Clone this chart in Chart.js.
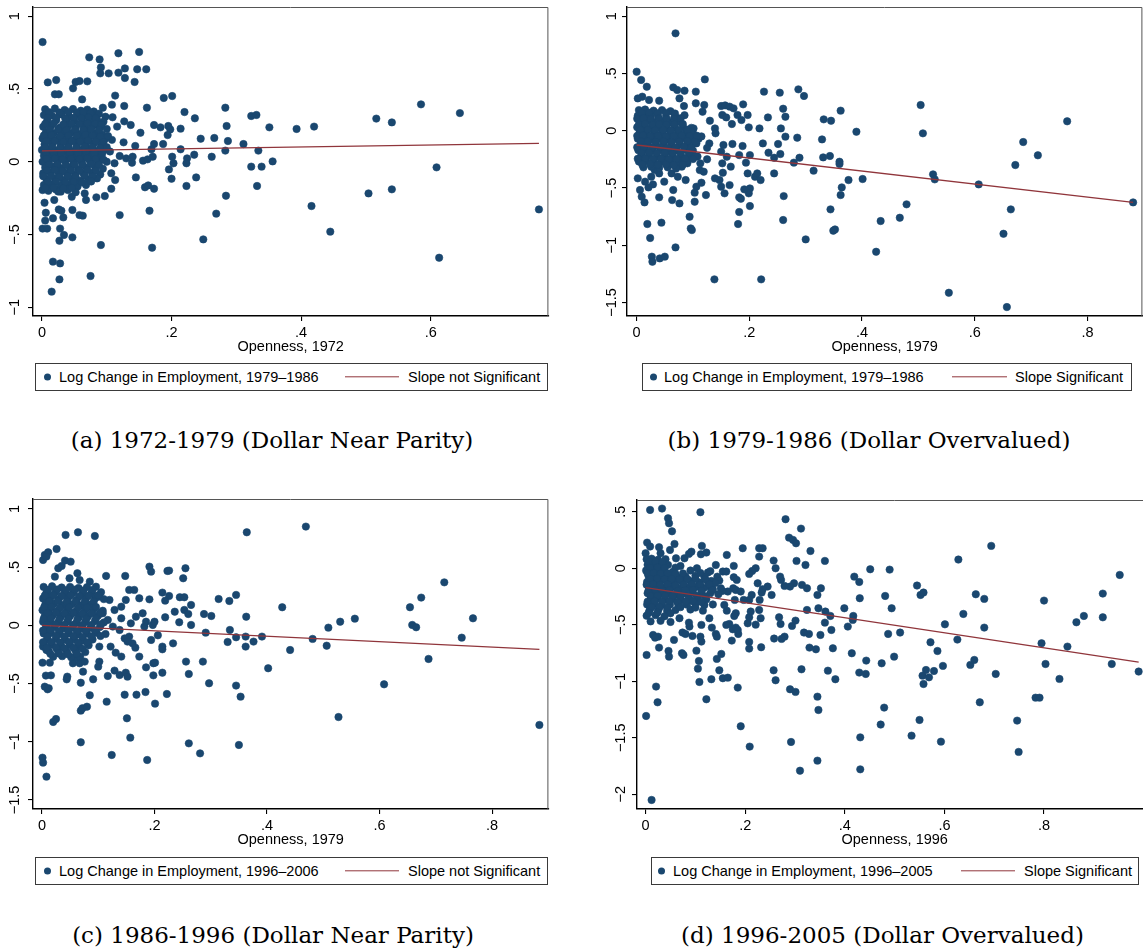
<!DOCTYPE html>
<html>
<head>
<meta charset="utf-8">
<script src="https://cdn.jsdelivr.net/npm/chart.js@4.4.1/dist/chart.umd.min.js"></script>
<style>
  html, body { margin: 0; padding: 0; background: #fff; width: 1143px; height: 951px; overflow: hidden; position: relative; font-family: 'Liberation Sans', Arial, sans-serif; }
  canvas { position: absolute; }
  .legend { position: absolute; border: 1px solid #3a3a3a; box-sizing: border-box; font-size: 14.5px; color: #000; background: #fff; }
  .legend span { position: absolute; top: 50%; transform: translateY(-50%); white-space: nowrap; }
  .legend .dot { width: 7px; height: 7px; border-radius: 50%; background: #1a476f; margin-left: -3.5px; }
  .legend .seg { height: 1.4px; background: #90353b; }
  .caption { position: absolute; font-family: 'DejaVu Serif', serif; font-size: 23px; line-height: 26px; text-align: center; white-space: nowrap; color: #000; }
</style>
</head>
<body>
<canvas id="cA" width="553" height="360" style="left:0px;top:0px"></canvas>
<canvas id="cB" width="553" height="360" style="left:594px;top:0px"></canvas>
<canvas id="cC" width="553" height="361" style="left:0px;top:492px"></canvas>
<canvas id="cD" width="553" height="360" style="left:604px;top:493px"></canvas>

<div class="legend" style="left:35px;top:363px;width:513px;height:28px">
  <span class="dot" style="left:11px"></span><span style="left:23px">Log Change in Employment, 1979–1986</span>
  <span class="seg" style="left:309px;width:54px"></span><span style="left:372px">Slope not Significant</span>
</div>
<div class="legend" style="left:642px;top:363px;width:490px;height:28px">
  <span class="dot" style="left:10px"></span><span style="left:21px">Log Change in Employment, 1979–1986</span>
  <span class="seg" style="left:309px;width:55px"></span><span style="left:372px">Slope Significant</span>
</div>
<div class="legend" style="left:35px;top:857px;width:513px;height:28px">
  <span class="dot" style="left:11px"></span><span style="left:23px">Log Change in Employment, 1996–2006</span>
  <span class="seg" style="left:309px;width:54px"></span><span style="left:372px">Slope not Significant</span>
</div>
<div class="legend" style="left:651px;top:857px;width:488px;height:28px">
  <span class="dot" style="left:9px"></span><span style="left:21px">Log Change in Employment, 1996–2005</span>
  <span class="seg" style="left:309px;width:54px"></span><span style="left:372px">Slope Significant</span>
</div>

<div class="caption" style="left:0px;top:427px;width:544px">(a) 1972-1979 (Dollar Near Parity)</div>
<div class="caption" style="left:597px;top:427px;width:544px">(b) 1979-1986 (Dollar Overvalued)</div>
<div class="caption" style="left:0px;top:922px;width:546px">(c) 1986-1996 (Dollar Near Parity)</div>
<div class="caption" style="left:610px;top:922px;width:545px">(d) 1996-2005 (Dollar Overvalued)</div>

<script>
// ---- data: openness (x) vs log change in employment (y) ----
const xTicksA = [0, 0.2, 0.4, 0.6];
const xLabelsA = ['0', '.2', '.4', '.6'];
const xTicksBCD = [0, 0.2, 0.4, 0.6, 0.8];
const xLabelsBCD = ['0', '.2', '.4', '.6', '.8'];
const yTicksA = [1, 0.5, 0, -0.5, -1];
const yLabelsA = ['1', '.5', '0', '\u2212.5', '\u22121'];
const yTicksBC = [1, 0.5, 0, -0.5, -1, -1.5];
const yLabelsBC = ['1', '.5', '0', '\u2212.5', '\u22121', '\u22121.5'];
const yTicksD = [0.5, 0, -0.5, -1, -1.5, -2];
const yLabelsD = ['.5', '0', '\u2212.5', '\u22121', '\u22121.5', '\u22122'];

// panel (a) 1972-1979
const pointsA = [[0.001,0.822],[0.073,0.717],[0.089,0.703],[0.118,0.745],[0.150,0.754],[0.091,0.648],[0.090,0.607],[0.103,0.607],[0.118,0.612],[0.128,0.641],[0.128,0.575],[0.147,0.635],[0.161,0.635],[0.143,0.548],[0.009,0.545],[0.022,0.561],[0.048,0.504],[0.052,0.548],[0.058,0.554],[0.070,0.552],[0.020,0.463],[0.026,0.463],[0.062,0.428],[0.113,0.454],[0.188,0.438],[0.201,0.451],[0.094,0.371],[0.108,0.392],[0.127,0.383],[0.162,0.371],[0.220,0.341],[0.236,0.298],[0.283,0.371],[0.127,0.277],[0.098,0.309],[0.109,0.305],[0.137,0.252],[0.116,0.241],[0.173,0.252],[0.183,0.236],[0.195,0.245],[0.198,0.222],[0.214,0.227],[0.152,0.199],[0.194,0.183],[0.245,0.158],[0.266,0.163],[0.285,0.245],[0.287,0.142],[0.311,0.121],[0.187,0.121],[0.173,0.121],[0.144,0.108],[0.126,0.133],[0.214,0.085],[0.224,0.023],[0.262,0.034],[0.235,0.048],[0.283,0.076],[0.201,0.034],[0.203,-0.011],[0.196,-0.053],[0.200,-0.117],[0.223,-0.011],[0.323,-0.034],[0.334,0.076],[0.339,-0.034],[0.351,0.236],[0.356,0.002],[0.323,0.314],[0.331,0.321],[0.332,-0.167],[0.238,-0.108],[0.223,-0.167],[0.284,-0.234],[0.269,-0.357],[0.249,-0.534],[0.170,-0.591],[0.166,-0.337],[0.159,-0.176],[0.164,-0.163],[0.173,-0.186],[0.145,-0.108],[0.156,0.007],[0.163,0.016],[0.171,0.034],[0.169,0.085],[0.139,-0.007],[0.140,0.034],[0.130,0.023],[0.120,0.039],[0.112,-0.011],[0.107,-0.080],[0.113,-0.126],[0.107,-0.186],[0.120,-0.367],[0.097,-0.236],[0.084,-0.245],[0.091,-0.573],[0.075,-0.786],[0.068,-0.263],[0.066,-0.218],[0.058,-0.367],[0.063,-0.371],[0.047,-0.332],[0.046,-0.241],[0.047,-0.520],[0.034,-0.504],[0.028,-0.460],[0.027,-0.543],[0.030,-0.337],[0.026,-0.328],[0.033,-0.383],[0.017,-0.389],[0.019,-0.263],[0.028,-0.699],[0.017,-0.687],[0.027,-0.809],[0.015,-0.893],[0.004,-0.282],[0.006,-0.351],[0.005,-0.405],[0.001,-0.460],[0.008,-0.460],[0.001,-0.195],[0.007,-0.172],[0.021,-0.190],[0.029,-0.206],
  [0.393,0.225],[0.420,0.241],[0.516,0.296],[0.540,0.270],[0.585,0.394],[0.645,0.334],[0.609,-0.039],[0.416,-0.305],[0.445,-0.481],[0.504,-0.218],[0.540,-0.190],[0.613,-0.660],[0.767,-0.328]];
const coreA = [[0.005,0.36],[0.02,0.365],[0.035,0.355],[0.048,0.362],[0.06,0.35],[0.07,0.358],[0.08,0.345],
  [0.003,0.32],[0.015,0.318],[0.03,0.325],[0.042,0.31],[0.055,0.322],[0.067,0.315],[0.078,0.32],[0.088,0.33],
  [0.008,0.28],[0.022,0.285],[0.038,0.275],[0.05,0.282],[0.062,0.27],[0.075,0.28],[0.085,0.288],[0.095,0.275],
  [0.002,0.24],[0.014,0.245],[0.028,0.235],[0.04,0.242],[0.052,0.23],[0.066,0.24],[0.079,0.248],[0.09,0.236],[0.1,0.225],
  [0.006,0.2],[0.018,0.195],[0.032,0.205],[0.045,0.198],[0.058,0.19],[0.07,0.202],[0.083,0.195],[0.093,0.185],
  [0.001,0.16],[0.012,0.165],[0.025,0.155],[0.037,0.162],[0.05,0.15],[0.062,0.158],[0.073,0.165],[0.086,0.155],[0.098,0.16],[0.108,0.15],
  [0.004,0.12],[0.016,0.125],[0.029,0.115],[0.041,0.122],[0.054,0.11],[0.068,0.118],[0.08,0.125],[0.092,0.112],
  [0.0,0.08],[0.01,0.085],[0.022,0.075],[0.034,0.082],[0.047,0.07],[0.06,0.078],[0.072,0.085],[0.084,0.072],[0.096,0.08],[0.105,0.07],
  [0.003,0.04],[0.015,0.045],[0.027,0.035],[0.04,0.042],[0.052,0.03],[0.065,0.038],[0.077,0.045],[0.09,0.032],
  [0.001,0.0],[0.011,0.005],[0.024,-0.005],[0.036,0.002],[0.049,-0.01],[0.061,-0.002],[0.074,0.005],[0.087,-0.008],[0.1,0.0],
  [0.005,-0.04],[0.018,-0.035],[0.03,-0.045],[0.043,-0.038],[0.056,-0.05],[0.069,-0.042],[0.082,-0.035],[0.094,-0.048],
  [0.002,-0.08],[0.013,-0.075],[0.026,-0.085],[0.038,-0.078],[0.051,-0.09],[0.064,-0.082],[0.077,-0.075],[0.09,-0.088],
  [0.007,-0.12],[0.02,-0.115],[0.033,-0.125],[0.046,-0.118],[0.059,-0.13],[0.072,-0.122],[0.085,-0.115],
  [0.003,-0.16],[0.016,-0.155],[0.029,-0.165],[0.042,-0.158],[0.055,-0.17],[0.068,-0.16],
  [0.01,-0.2],[0.025,-0.205],[0.04,-0.195],[0.052,-0.21]];
const coreA2 = [[0.011,0.34],[0.027,0.338],[0.041,0.342],[0.054,0.336],[0.064,0.34],[0.075,0.334],
  [0.009,0.3],[0.022,0.302],[0.036,0.296],[0.049,0.3],[0.061,0.298],[0.072,0.304],[0.083,0.298],
  [0.005,0.26],[0.018,0.262],[0.033,0.256],[0.046,0.26],[0.058,0.258],[0.07,0.264],[0.082,0.26],[0.092,0.255],
  [0.012,0.22],[0.025,0.222],[0.038,0.216],[0.051,0.22],[0.064,0.218],[0.076,0.224],[0.088,0.218],
  [0.003,0.18],[0.015,0.182],[0.028,0.176],[0.041,0.18],[0.054,0.178],[0.067,0.184],[0.078,0.178],[0.09,0.172],[0.102,0.176],
  [0.007,0.14],[0.02,0.142],[0.033,0.136],[0.046,0.14],[0.059,0.138],[0.071,0.144],[0.083,0.138],[0.095,0.134],
  [0.005,0.1],[0.016,0.102],[0.028,0.096],[0.041,0.1],[0.053,0.098],[0.066,0.104],[0.078,0.098],[0.09,0.094],[0.1,0.1],
  [0.006,0.06],[0.018,0.062],[0.03,0.056],[0.043,0.06],[0.056,0.058],[0.068,0.064],[0.081,0.058],[0.093,0.054],
  [0.007,0.02],[0.02,0.022],[0.032,0.016],[0.045,0.02],[0.058,0.018],[0.07,0.024],[0.083,0.018],[0.095,0.014],
  [0.011,-0.02],[0.024,-0.018],[0.037,-0.024],[0.05,-0.02],[0.063,-0.022],[0.076,-0.016],[0.088,-0.022],
  [0.008,-0.06],[0.02,-0.058],[0.032,-0.064],[0.045,-0.06],[0.058,-0.062],[0.07,-0.056],[0.083,-0.062],
  [0.002,-0.1],[0.014,-0.098],[0.027,-0.104],[0.04,-0.1],[0.052,-0.102],[0.066,-0.096],[0.078,-0.102],
  [0.009,-0.14],[0.022,-0.138],[0.036,-0.144],[0.049,-0.14],[0.062,-0.142],[0.076,-0.136],
  [0.005,-0.18],[0.018,-0.178],[0.033,-0.184],[0.046,-0.18]];
const fitA = [[0, 0.074], [0.767, 0.126]];

// panel (b) 1979-1986
const pointsB = [[0.069,0.850],[0.0,0.515],[0.008,0.443],[0.018,0.384],[0.010,0.297],[0.002,0.282],[0.022,0.268],[0.040,0.262],[0.065,0.378],[0.072,0.355],[0.085,0.349],[0.076,0.282],[0.105,0.341],[0.121,0.448],[0.105,0.239],[0.120,0.224],[0.117,0.166],[0.084,0.215],[0.130,0.087],[0.150,0.215],[0.157,0.221],[0.165,0.210],[0.172,0.195],[0.152,0.137],[0.159,0.116],[0.179,0.137],[0.189,0.230],[0.197,0.137],[0.186,0.093],[0.199,0.029],[0.169,0.058],[0.139,0.020],[0.140,-0.023],[0.101,0.020],[0.226,0.341],[0.254,0.332],[0.287,0.361],[0.297,0.303],[0.260,0.192],[0.264,0.122],[0.233,0.116],[0.218,0.020],[0.256,0.020],[0.264,-0.052],[0.285,-0.061],[0.224,-0.111],[0.251,-0.116],[0.234,-0.192],[0.255,-0.204],[0.244,-0.236],[0.289,-0.236],[0.279,-0.279],[0.332,0.099],[0.345,0.087],[0.362,0.175],[0.329,-0.076],[0.331,-0.233],[0.343,-0.221],[0.360,-0.271],[0.360,-0.291],[0.314,-0.349],[0.390,-0.009],[0.401,-0.422],[0.376,-0.431],[0.364,-0.495],[0.362,-0.562],[0.344,-0.687],[0.352,-0.862],[0.349,-0.873],[0.300,-0.949],[0.425,-1.057],[0.221,-1.298],[0.138,-1.298],[0.261,-0.571],[0.260,-0.780],[0.244,-0.373],[0.210,-0.402],[0.214,-0.373],[0.220,-0.431],[0.201,-0.504],[0.199,-0.547],[0.201,-0.658],[0.191,-0.512],[0.182,-0.582],[0.185,-0.594],[0.182,-0.710],[0.180,-0.815],[0.194,-0.279],[0.197,-0.373],[0.188,-0.134],[0.201,-0.213],[0.182,-0.213],[0.167,-0.314],[0.165,-0.475],[0.156,-0.547],[0.150,-0.489],[0.147,-0.431],[0.139,-0.416],[0.153,-0.367],[0.160,-0.227],[0.150,-0.183],[0.152,-0.285],[0.170,-0.116],[0.154,-0.125],[0.129,-0.111],[0.125,-0.250],[0.113,-0.285],[0.112,-0.344],[0.119,-0.358],[0.123,-0.562],[0.115,-0.454],[0.106,-0.489],[0.103,-0.541],[0.103,-0.620],[0.094,-0.751],[0.096,-0.853],[0.098,-0.868],[0.076,-0.635],[0.065,-0.518],[0.063,-0.606],[0.073,-0.402],[0.087,-0.431],[0.080,-0.314],[0.090,-0.285],[0.062,-0.373],[0.049,-0.445],[0.040,-0.373],[0.040,-0.582],[0.044,-0.803],[0.019,-0.815],[0.024,-0.937],[0.027,-1.100],[0.028,-1.144],[0.041,-1.115],[0.050,-1.100],[0.069,-1.019],[0.014,-0.626],[0.009,-0.576],[0.006,-0.518],[0.002,-0.416],[0.015,-0.445],[0.029,-0.469],[0.021,-0.495],[0.026,-0.402],[0.032,-0.344],
  [0.504,0.224],[0.508,-0.023],[0.526,-0.381],[0.529,-0.425],[0.479,-0.643],[0.467,-0.760],[0.433,-0.789],[0.554,-1.415],[0.607,-0.469],[0.657,-1.540],[0.651,-0.900],[0.664,-0.687],[0.672,-0.300],[0.686,-0.099],[0.712,-0.215],[0.764,0.082],[0.881,-0.626]];
const coreB = [[0.004,0.18],[0.015,0.185],[0.03,0.175],[0.045,0.18],[0.06,0.17],
  [0.002,0.13],[0.012,0.135],[0.025,0.125],[0.038,0.13],[0.052,0.12],[0.068,0.128],[0.085,0.135],
  [0.006,0.08],[0.018,0.085],[0.032,0.075],[0.046,0.08],[0.06,0.07],[0.075,0.078],
  [0.001,0.03],[0.012,0.035],[0.026,0.025],[0.04,0.03],[0.054,0.02],[0.068,0.028],[0.082,0.035],[0.097,0.025],
  [0.005,-0.02],[0.017,-0.015],[0.031,-0.025],[0.045,-0.02],[0.059,-0.03],[0.073,-0.022],[0.087,-0.015],[0.1,-0.025],
  [0.002,-0.07],[0.013,-0.065],[0.027,-0.075],[0.041,-0.07],[0.055,-0.08],[0.069,-0.072],[0.083,-0.065],[0.096,-0.075],[0.11,-0.07],
  [0.007,-0.12],[0.02,-0.115],[0.034,-0.125],[0.048,-0.12],[0.062,-0.13],[0.077,-0.122],[0.091,-0.115],
  [0.003,-0.17],[0.015,-0.165],[0.029,-0.175],[0.043,-0.17],[0.057,-0.18],[0.071,-0.172],[0.086,-0.165],[0.1,-0.175],
  [0.008,-0.22],[0.022,-0.215],[0.036,-0.225],[0.05,-0.22],[0.064,-0.23],[0.079,-0.222],[0.093,-0.215],[0.108,-0.225],
  [0.004,-0.27],[0.017,-0.265],[0.031,-0.275],[0.046,-0.27],[0.06,-0.28],[0.075,-0.272],[0.09,-0.265],
  [0.012,-0.32],[0.026,-0.315],[0.04,-0.325],[0.055,-0.32],[0.07,-0.33],
  [0.097,-0.009],[0.106,-0.111],[0.094,-0.183],[0.103,-0.227],[0.115,-0.05],[0.125,-0.15]];
const coreB2 = [[0.009,0.155],[0.022,0.158],[0.037,0.152],[0.052,0.156],[0.068,0.15],
  [0.001,0.105],[0.012,0.108],[0.025,0.102],[0.039,0.106],[0.053,0.1],[0.066,0.104],[0.078,0.108],
  [0.004,0.055],[0.015,0.058],[0.028,0.052],[0.04,0.056],[0.053,0.05],[0.067,0.054],[0.082,0.058],
  [0.007,0.005],[0.02,0.008],[0.033,0.002],[0.047,0.006],[0.061,0.0],[0.075,0.004],[0.09,0.008],
  [0.001,-0.045],[0.011,-0.042],[0.024,-0.048],[0.038,-0.044],[0.052,-0.05],[0.066,-0.046],[0.08,-0.042],[0.094,-0.048],[0.107,-0.044],
  [0.008,-0.095],[0.02,-0.092],[0.034,-0.098],[0.048,-0.094],[0.062,-0.1],[0.076,-0.096],[0.09,-0.092],[0.103,-0.098],
  [0.001,-0.145],[0.013,-0.142],[0.027,-0.148],[0.041,-0.144],[0.055,-0.15],[0.069,-0.146],[0.084,-0.142],[0.097,-0.148],
  [0.009,-0.195],[0.022,-0.192],[0.036,-0.198],[0.05,-0.194],[0.064,-0.2],[0.078,-0.196],[0.093,-0.192],
  [0.002,-0.245],[0.015,-0.242],[0.029,-0.248],[0.043,-0.244],[0.057,-0.25],[0.071,-0.246],[0.086,-0.242],[0.1,-0.248],
  [0.01,-0.295],[0.024,-0.292],[0.038,-0.298],[0.052,-0.294],[0.066,-0.3],[0.082,-0.296]];
const fitB = [[0, -0.125], [0.881, -0.626]];

// panel (c) 1986-1996
const pointsC = [[0.042,0.776],[0.064,0.799],[0.094,0.767],[0.026,0.656],[0.002,0.561],[0.005,0.604],[0.011,0.627],[0.008,0.590],[0.041,0.556],[0.051,0.547],[0.029,0.490],[0.035,0.510],[0.063,0.447],[0.023,0.418],[0.049,0.404],[0.067,0.389],[0.085,0.375],[0.096,0.332],[0.114,0.424],[0.148,0.424],[0.191,0.504],[0.194,0.461],[0.223,0.467],[0.226,0.470],[0.255,0.490],[0.251,0.404],[0.364,0.799],[0.214,0.281],[0.226,0.252],[0.245,0.241],[0.253,0.241],[0.191,0.223],[0.219,0.212],[0.314,0.226],[0.333,0.209],[0.345,0.261],[0.427,0.155],[0.265,0.175],[0.253,0.132],[0.236,0.117],[0.260,0.097],[0.288,0.097],[0.301,0.080],[0.219,0.069],[0.244,0.026],[0.265,0.003],[0.363,0.074],[0.291,-0.063],[0.334,-0.040],[0.345,-0.103],[0.362,-0.097],[0.362,-0.183],[0.376,-0.140],[0.391,-0.097],[0.330,-0.143],[0.206,-0.086],[0.194,-0.126],[0.214,-0.183],[0.214,-0.206],[0.233,-0.155],[0.198,-0.326],[0.201,-0.321],[0.256,-0.312],[0.286,-0.312],[0.214,-0.407],[0.198,-0.430],[0.185,-0.361],[0.261,-0.418],[0.297,-0.498],[0.345,-0.518],[0.353,-0.613],[0.402,-0.369],[0.222,-0.590],[0.184,-0.573],[0.201,-0.673],[0.168,-0.596],[0.147,-0.596],[0.151,-0.799],[0.157,-0.965],[0.261,-1.014],[0.281,-1.100],[0.350,-1.028],[0.187,-1.157],[0.124,-1.114],[0.069,-1.005],[0.020,-0.830],[0.025,-0.805],[0.069,-0.733],[0.072,-0.713],[0.080,-0.699],[0.115,-0.656],[0.085,-0.601],[0.069,-0.493],[0.073,-0.398],[0.091,-0.464],[0.117,-0.435],[0.129,-0.389],[0.138,-0.427],[0.149,-0.407],[0.152,-0.441],[0.102,-0.312],[0.100,-0.355],[0.131,-0.235],[0.141,-0.269],[0.122,-0.183],[0.102,-0.183],[0.155,-0.097],[0.161,-0.155],[0.166,-0.192],[0.173,-0.269],[0.010,-0.550],[0.005,-0.527],[0.012,-0.541],[0.007,-0.432],[0.016,-0.430],[0.045,-0.441],[0.044,-0.464],[0.001,-1.137],[0.002,-1.180],[0.008,-1.300],[0.001,-0.321],[0.014,-0.321],[0.055,-0.326],[0.067,-0.326],[0.076,-0.312],[0.061,-0.278],[0.002,-0.183],[0.008,-0.212],
  [0.469,0.848],[0.441,-0.212],[0.481,-0.117],[0.506,-0.175],[0.509,-0.020],[0.530,0.031],[0.556,0.057],[0.527,-0.788],[0.608,-0.507],[0.654,0.155],[0.658,0.003],[0.665,-0.017],[0.674,0.238],[0.687,-0.289],[0.715,0.369],[0.746,-0.106],[0.766,0.060],[0.884,-0.856],
  [0.102,0.246],[0.120,0.218],[0.129,0.132],[0.141,0.160],[0.149,0.218],[0.155,0.304],[0.164,0.304],[0.173,0.232],[0.167,0.074],[0.179,0.103],[0.158,0.017],[0.138,-0.040],[0.126,-0.011],[0.117,0.046],[0.108,0.103],[0.141,0.060],[0.182,-0.011],[0.197,0.003],[0.200,0.031],[0.185,0.031],[0.147,-0.112],[0.152,-0.140]];
const coreC = [[0.003,0.33],[0.018,0.335],[0.035,0.325],[0.05,0.33],[0.065,0.32],[0.08,0.328],
  [0.008,0.28],[0.024,0.285],[0.04,0.275],[0.056,0.28],[0.072,0.27],[0.088,0.278],[0.105,0.285],
  [0.002,0.23],[0.015,0.235],[0.03,0.225],[0.046,0.23],[0.062,0.22],[0.078,0.228],[0.095,0.235],[0.11,0.225],
  [0.006,0.18],[0.021,0.185],[0.037,0.175],[0.053,0.18],[0.069,0.17],[0.085,0.178],
  [0.001,0.13],[0.013,0.135],[0.028,0.125],[0.044,0.13],[0.06,0.12],[0.076,0.128],[0.092,0.135],[0.108,0.125],
  [0.005,0.08],[0.019,0.085],[0.034,0.075],[0.05,0.08],[0.066,0.07],[0.082,0.078],[0.1,0.085],
  [0.002,0.03],[0.014,0.035],[0.029,0.025],[0.045,0.03],[0.061,0.02],[0.077,0.028],[0.094,0.035],[0.11,0.025],
  [0.007,-0.02],[0.022,-0.015],[0.038,-0.025],[0.054,-0.02],[0.07,-0.03],[0.086,-0.022],[0.103,-0.015],
  [0.003,-0.07],[0.016,-0.065],[0.032,-0.075],[0.048,-0.07],[0.064,-0.08],[0.08,-0.072],[0.097,-0.065],[0.113,-0.075],
  [0.009,-0.12],[0.025,-0.115],[0.041,-0.125],[0.057,-0.12],[0.073,-0.13],[0.09,-0.122],
  [0.004,-0.17],[0.018,-0.165],[0.034,-0.175],[0.05,-0.17],[0.066,-0.18],[0.083,-0.172],
  [0.012,-0.22],[0.028,-0.215],[0.044,-0.225],[0.06,-0.22],[0.077,-0.23],
  [0.02,-0.27],[0.036,-0.265],[0.052,-0.275],[0.068,-0.27]];
const coreC2 = [[0.011,0.305],[0.027,0.308],[0.043,0.302],[0.058,0.306],[0.074,0.3],[0.09,0.304],
  [0.005,0.255],[0.02,0.258],[0.035,0.252],[0.051,0.256],[0.067,0.25],[0.083,0.254],[0.1,0.258],
  [0.013,0.205],[0.028,0.208],[0.044,0.202],[0.06,0.206],[0.076,0.2],[0.092,0.204],
  [0.004,0.155],[0.017,0.158],[0.032,0.152],[0.048,0.156],[0.064,0.15],[0.08,0.154],[0.096,0.158],
  [0.01,0.105],[0.025,0.108],[0.04,0.102],[0.056,0.106],[0.072,0.1],[0.088,0.104],[0.104,0.108],
  [0.003,0.055],[0.016,0.058],[0.031,0.052],[0.047,0.056],[0.063,0.05],[0.079,0.054],[0.096,0.058],
  [0.009,0.005],[0.024,0.008],[0.04,0.002],[0.056,0.006],[0.072,0.0],[0.088,0.004],[0.105,0.008],
  [0.002,-0.045],[0.015,-0.042],[0.03,-0.048],[0.046,-0.044],[0.062,-0.05],[0.078,-0.046],[0.094,-0.042],
  [0.01,-0.095],[0.025,-0.092],[0.04,-0.098],[0.056,-0.094],[0.072,-0.1],[0.088,-0.096],[0.104,-0.092],
  [0.002,-0.145],[0.016,-0.142],[0.032,-0.148],[0.048,-0.144],[0.064,-0.15],[0.08,-0.146],
  [0.009,-0.195],[0.025,-0.192],[0.04,-0.198],[0.056,-0.194],[0.072,-0.2],
  [0.015,-0.245],[0.03,-0.242],[0.046,-0.248],[0.062,-0.244]];
const fitC = [[0, 0.0], [0.884, -0.206]];

// panel (d) 1996-2005
const pointsD = [[0.009,0.516],[0.033,0.528],[0.110,0.496],[0.045,0.442],[0.047,0.398],[0.053,0.327],[0.281,0.434],[0.312,0.351],[0.288,0.271],[0.296,0.251],[0.302,0.221],[0.331,0.153],[0.360,0.065],[0.303,0.065],[0.321,0.029],[0.003,0.227],[0.009,0.192],[0.000,0.133],[0.027,0.186],[0.030,0.133],[0.058,0.215],[0.049,0.162],[0.061,0.088],[0.078,0.088],[0.087,0.127],[0.092,0.147],[0.113,0.198],[0.111,0.124],[0.122,0.139],[0.163,0.118],[0.195,0.177],[0.228,0.177],[0.235,0.177],[0.228,0.103],[0.257,0.068],[0.261,0.000],[0.221,0.000],[0.214,-0.024],[0.208,-0.050],[0.177,0.021],[0.141,0.029],[0.103,0.000],[0.125,-0.038],[0.451,-0.009],[0.419,-0.074],[0.429,-0.121],[0.430,-0.265],[0.399,-0.354],[0.406,-0.516],[0.417,-0.422],[0.416,-0.457],[0.352,-0.177],[0.345,-0.236],[0.314,-0.147],[0.324,-0.177],[0.298,-0.133],[0.290,-0.162],[0.272,-0.103],[0.270,-0.074],[0.279,-0.156],[0.324,-0.369],[0.347,-0.354],[0.361,-0.383],[0.371,-0.422],[0.360,-0.481],[0.373,-0.546],[0.351,-0.590],[0.328,-0.581],[0.318,-0.569],[0.294,-0.510],[0.301,-0.463],[0.268,-0.434],[0.271,-0.493],[0.279,-0.605],[0.273,-0.625],[0.258,-0.622],[0.329,-0.702],[0.342,-0.717],[0.376,-0.708],[0.414,-0.752],[0.443,-0.817],[0.429,-0.923],[0.442,-0.935],[0.366,-0.906],[0.381,-0.982],[0.313,-0.894],[0.290,-1.071],[0.301,-1.094],[0.257,-0.903],[0.261,-0.991],[0.345,-1.136],[0.347,-1.254],[0.232,-0.699],[0.208,-0.652],[0.208,-0.711],[0.185,-1.056],[0.191,-1.398],[0.209,-1.578],[0.292,-1.537],[0.310,-1.791],[0.345,-1.702],[0.431,-1.496],[0.431,-1.779],[0.472,-1.383],[0.122,-1.159],[0.108,-1.006],[0.132,-0.982],[0.148,-0.903],[0.105,-0.888],[0.107,-0.820],[0.155,-0.973],[0.165,-0.968],[0.152,-0.758],[0.143,-0.802],[0.102,-0.729],[0.112,-0.649],[0.110,-0.605],[0.094,-0.599],[0.088,-0.516],[0.087,-0.481],[0.074,-0.569],[0.080,-0.581],[0.057,-0.634],[0.068,-0.442],[0.073,-0.752],[0.076,-0.767],[0.046,-0.732],[0.047,-0.782],[0.027,-0.702],[0.025,-0.605],[0.015,-0.590],[0.019,-0.614],[0.002,-0.767],[0.021,-1.047],[0.024,-1.186],[0.001,-1.307],[0.012,-2.050],[0.112,-0.501],[0.128,-0.442],[0.133,-0.525],[0.141,-0.581],[0.143,-0.605],[0.168,-0.493],[0.162,-0.501],[0.175,-0.540],[0.181,-0.525],[0.186,-0.581],[0.173,-0.640],[0.185,-0.546],[0.205,-0.487],[0.208,-0.434],[0.221,-0.499],[0.211,-0.383],[0.228,-0.369],[0.231,-0.442],[0.229,-0.280],[0.245,-0.162],[0.253,-0.236],[0.235,-0.186],[0.225,-0.133],[0.233,-0.215],[0.213,-0.236],[0.208,-0.280],[0.197,-0.280],[0.181,-0.398],[0.178,-0.422],[0.163,-0.375],[0.158,-0.324],[0.179,-0.280],[0.176,-0.177],[0.181,-0.192],[0.191,-0.206],[0.177,-0.080],[0.183,-0.103],[0.165,-0.206],[0.154,-0.201],[0.155,-0.029],[0.162,-0.029],[0.144,-0.074],[0.148,-0.109],[0.132,-0.112],[0.151,-0.177],[0.135,-0.186],[0.128,-0.162],
  [0.694,0.198],[0.628,0.077],[0.490,-0.012],[0.545,-0.153],[0.552,-0.236],[0.558,-0.215],[0.481,-0.245],[0.663,-0.230],[0.680,-0.271],[0.800,-0.286],[0.494,-0.354],[0.638,-0.404],[0.865,-0.478],[0.880,-0.422],[0.918,-0.224],[0.918,-0.434],[0.952,-0.059],[0.487,-0.581],[0.511,-0.569],[0.601,-0.496],[0.680,-0.525],[0.626,-0.631],[0.572,-0.655],[0.586,-0.732],[0.499,-0.782],[0.474,-0.841],[0.563,-0.900],[0.556,-0.950],[0.569,-0.965],[0.558,-1.024],[0.579,-0.909],[0.597,-0.864],[0.652,-0.855],[0.660,-0.811],[0.703,-0.935],[0.795,-0.664],[0.803,-0.847],[0.831,-0.979],[0.847,-0.693],[0.936,-0.847],[0.990,-0.914],[0.671,-1.186],[0.783,-1.145],[0.791,-1.145],[0.479,-1.233],[0.550,-1.342],[0.534,-1.481],[0.593,-1.534],[0.746,-1.348],[0.749,-1.625]];
const coreD = [[0.002,0.08],[0.012,0.085],[0.025,0.075],[0.04,0.08],
  [0.004,0.03],[0.016,0.035],[0.03,0.025],[0.045,0.03],[0.07,0.02],
  [0.001,-0.02],[0.01,-0.015],[0.022,-0.025],[0.036,-0.02],[0.055,-0.03],[0.09,-0.02],[0.13,-0.025],
  [0.006,-0.07],[0.018,-0.065],[0.032,-0.075],[0.048,-0.07],[0.064,-0.08],[0.08,-0.072],[0.1,-0.065],[0.118,-0.075],
  [0.003,-0.12],[0.014,-0.115],[0.028,-0.125],[0.043,-0.12],[0.058,-0.13],[0.074,-0.122],[0.09,-0.115],[0.108,-0.125],[0.125,-0.12],[0.14,-0.13],
  [0.008,-0.17],[0.021,-0.165],[0.036,-0.175],[0.051,-0.17],[0.067,-0.18],[0.084,-0.172],[0.1,-0.165],[0.117,-0.175],
  [0.004,-0.22],[0.016,-0.215],[0.03,-0.225],[0.045,-0.22],[0.061,-0.23],[0.077,-0.222],[0.094,-0.215],[0.112,-0.225],[0.13,-0.22],[0.146,-0.23],
  [0.01,-0.27],[0.024,-0.265],[0.039,-0.275],[0.055,-0.27],[0.071,-0.28],[0.088,-0.272],[0.105,-0.265],[0.122,-0.275],
  [0.003,-0.32],[0.017,-0.315],[0.033,-0.325],[0.049,-0.32],[0.066,-0.33],[0.083,-0.322],[0.1,-0.315],[0.118,-0.325],[0.135,-0.32],
  [0.008,-0.37],[0.026,-0.365],[0.043,-0.375],[0.06,-0.37],[0.09,-0.365],[0.115,-0.375],
  [0.002,-0.42],[0.02,-0.415],[0.038,-0.425],
  [0.01,-0.47],[0.03,-0.465],[0.05,-0.475]];
const coreD2 = [[0.007,0.055],[0.02,0.058],[0.034,0.052],
  [0.009,0.005],[0.024,0.008],[0.038,0.002],[0.06,0.006],
  [0.004,-0.045],[0.016,-0.042],[0.03,-0.048],[0.044,-0.044],[0.06,-0.05],[0.075,-0.046],[0.11,-0.042],
  [0.01,-0.095],[0.023,-0.092],[0.038,-0.098],[0.052,-0.094],[0.068,-0.1],[0.084,-0.096],[0.1,-0.092],[0.12,-0.098],
  [0.002,-0.145],[0.015,-0.142],[0.029,-0.148],[0.044,-0.144],[0.06,-0.15],[0.076,-0.146],[0.093,-0.142],[0.11,-0.148],[0.128,-0.144],
  [0.006,-0.195],[0.02,-0.192],[0.034,-0.198],[0.048,-0.194],[0.064,-0.2],[0.08,-0.196],[0.095,-0.192],[0.112,-0.198],[0.134,-0.194],
  [0.01,-0.245],[0.024,-0.242],[0.039,-0.248],[0.054,-0.244],[0.07,-0.25],[0.086,-0.246],[0.102,-0.242],[0.12,-0.248],
  [0.004,-0.295],[0.018,-0.292],[0.033,-0.298],[0.048,-0.294],[0.064,-0.3],[0.08,-0.296],[0.095,-0.292],[0.112,-0.298],
  [0.012,-0.345],[0.028,-0.342],[0.044,-0.348],[0.07,-0.344],[0.1,-0.348],
  [0.006,-0.395],[0.024,-0.392],[0.05,-0.398]];
const fitD = [[0, -0.172], [0.99, -0.83]];

// ---- drawing ----
const NAVY = '#1a476f';
const MAROON = '#90353b';
const FONT = { family: "'Liberation Sans', Arial, sans-serif", size: 14.5 };

// top and right edges of the plot region
const frame = {
  id: 'frame',
  beforeDatasetsDraw(chart) {
    const a = chart.chartArea, ctx = chart.ctx;
    ctx.save();
    ctx.strokeStyle = '#555';
    ctx.lineWidth = 1;
    ctx.beginPath();
    ctx.moveTo(a.left, a.top + 0.5);
    ctx.lineTo(a.right - 0.5, a.top + 0.5);
    ctx.lineTo(a.right - 0.5, a.bottom);
    ctx.stroke();
    ctx.restore();
  }
};

// stata-style vertical y tick labels
const rotatedY = {
  id: 'rotatedY',
  afterDraw(chart, args, opts) {
    const sc = chart.scales.y, ctx = chart.ctx;
    ctx.save();
    ctx.font = FONT.size + 'px ' + FONT.family;
    ctx.fillStyle = '#000';
    ctx.textAlign = 'center';
    ctx.textBaseline = 'middle';
    opts.values.forEach((v, i) => {
      ctx.save();
      ctx.translate(opts.x, sc.getPixelForValue(v));
      ctx.rotate(-Math.PI / 2);
      ctx.fillText(opts.labels[i], 0, 0);
      ctx.restore();
    });
    ctx.restore();
  }
};

function toXY(arr) {
  return arr.map(p => ({ x: p[0], y: p[1] }));
}

function makePanel(p) {
  new Chart(document.getElementById(p.id), {
    type: 'scatter',
    data: {
      datasets: [
        {
          label: 'fit', data: toXY(p.fit), showLine: true, order: 0,
          borderColor: MAROON, borderWidth: 1.3, pointRadius: 0, fill: false
        },
        {
          label: 'points', data: toXY(p.points), order: 1,
          backgroundColor: NAVY, borderColor: NAVY, borderWidth: 0.6, pointRadius: 3.7
        }
      ]
    },
    options: {
      responsive: false,
      animation: false,
      layout: { padding: { top: 7, left: 0, right: 1, bottom: 0 } },
      plugins: {
        legend: { display: false },
        tooltip: { enabled: false },
        rotatedY: { x: p.labelX, values: p.yTicks, labels: p.yLabels }
      },
      scales: {
        x: {
          type: 'linear', min: p.xMin, max: p.xMax,
          afterBuildTicks: s => { s.ticks = p.xTicks.map(v => ({ value: v })); },
          afterFit: s => { s.height = 44; },
          ticks: { callback: (v, i) => p.xLabels[i], font: FONT, color: '#000', padding: 3, maxRotation: 0, autoSkip: false },
          grid: { drawOnChartArea: false, tickLength: 5, color: '#000', lineWidth: 1.1 },
          border: { color: '#000', width: 1.4 },
          title: { display: true, text: p.xTitle, font: FONT, color: '#000', padding: { top: 0, bottom: 4 } }
        },
        y: {
          type: 'linear', min: p.yMin, max: p.yMax,
          afterBuildTicks: s => { s.ticks = p.yTicks.map(v => ({ value: v })); },
          afterFit: s => { s.width = 33; },
          ticks: { color: 'rgba(0,0,0,0)', font: { size: 1 } },
          grid: { drawOnChartArea: false, tickLength: 5, color: '#000', lineWidth: 1.1 },
          border: { color: '#000', width: 1.4 }
        }
      }
    },
    plugins: [frame, rotatedY]
  });
}

makePanel({ id: 'cA', points: pointsA.concat(coreA, coreA2), fit: fitA, xTicks: xTicksA, xLabels: xLabelsA,
  yTicks: yTicksA, yLabels: yLabelsA, xMin: -0.0138, xMax: 0.7816, yMin: -1.0605, yMax: 1.063,
  xTitle: 'Openness, 1972', labelX: 15 });
makePanel({ id: 'cB', points: pointsB.concat(coreB, coreB2), fit: fitB, xTicks: xTicksBCD, xLabels: xLabelsBCD,
  yTicks: yTicksBC, yLabels: yLabelsBC, xMin: -0.0171, xMax: 0.8975, yMin: -1.618, yMax: 1.08,
  xTitle: 'Openness, 1979', labelX: 17.5 });
makePanel({ id: 'cC', points: pointsC.concat(coreC, coreC2), fit: fitC, xTicks: xTicksBCD, xLabels: xLabelsBCD,
  yTicks: yTicksBC, yLabels: yLabelsBC, xMin: -0.0159, xMax: 0.900, yMin: -1.578, yMax: 1.085,
  xTitle: 'Openness, 1979', labelX: 15 });
makePanel({ id: 'cD', points: pointsD.concat(coreD, coreD2), fit: fitD, xTicks: xTicksBCD, xLabels: xLabelsBCD,
  yTicks: yTicksD, yLabels: yLabelsD, xMin: -0.0173, xMax: 1.0176, yMin: -2.130, yMax: 0.604,
  xTitle: 'Openness, 1996', labelX: 16.5 });
</script>
</body>
</html>
